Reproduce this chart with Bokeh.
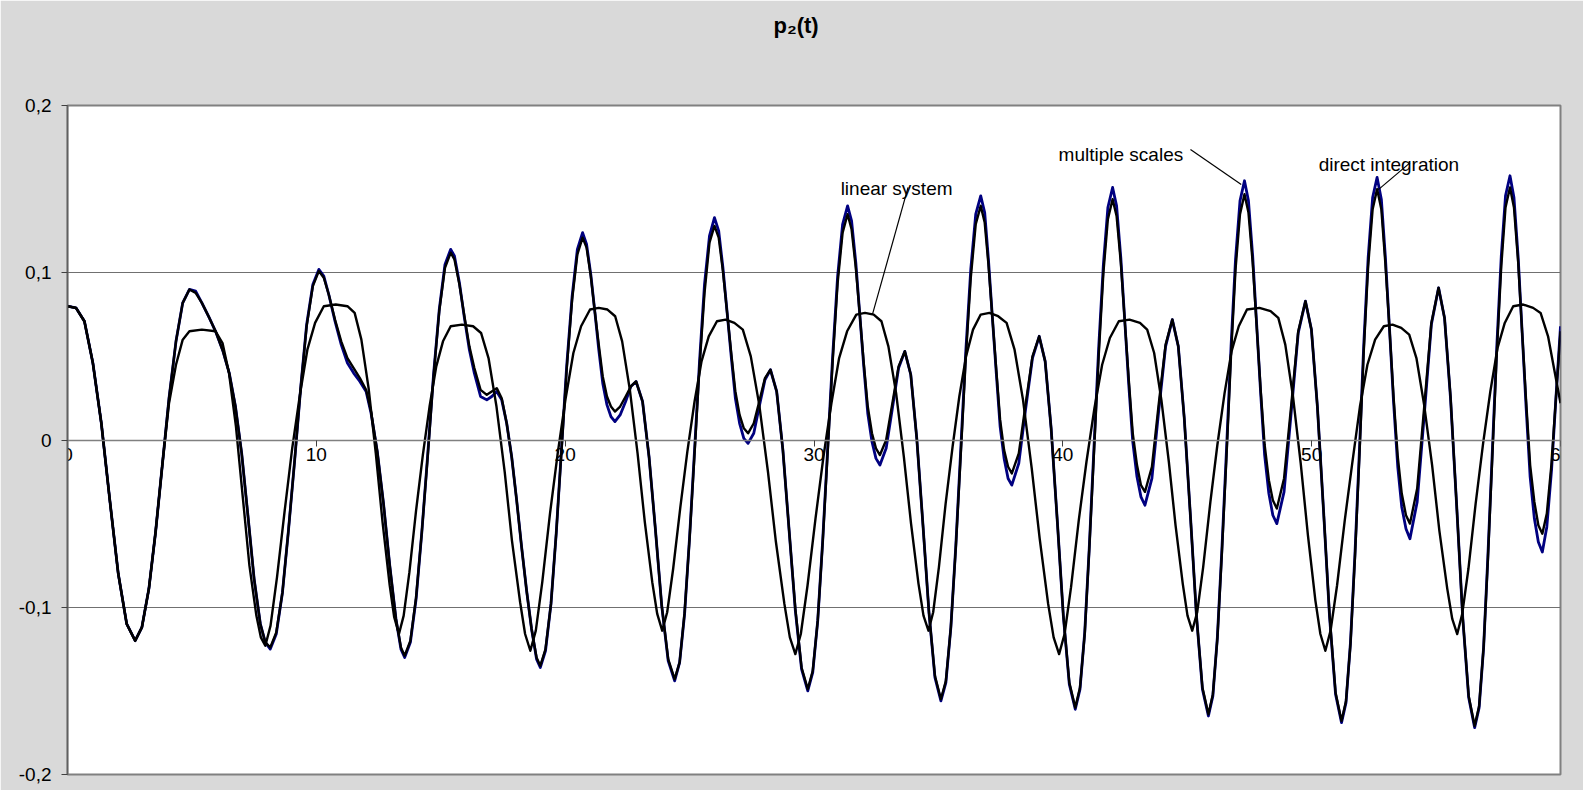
from bokeh.plotting import figure
from bokeh.models import Range1d, FixedTicker, Title
from bokeh.embed import file_html
from bokeh.resources import INLINE
from bokeh.core.properties import value

# ---------------- data ----------------
t_fast = [
    0.00, 0.34, 0.68, 1.02, 1.36, 1.70, 2.04, 2.38, 2.72,
    2.99, 3.27, 3.54, 3.81, 4.08, 4.36, 4.63, 4.90,
    5.15, 5.40, 5.70, 5.95, 6.25, 6.50, 6.75, 7.00, 7.25, 7.50, 7.75, 7.95, 8.15,
    8.39, 8.64, 8.88, 9.13, 9.37, 9.61, 9.86, 10.10,
    10.30, 10.50, 10.75, 11.00, 11.25, 11.50, 11.75, 12.00, 12.20, 12.45, 12.70, 12.95, 13.20, 13.40, 13.55,
    13.78, 14.01, 14.24, 14.48, 14.71, 14.94, 15.17, 15.40,
    15.55, 15.75, 15.95, 16.15, 16.35, 16.60, 16.85, 17.05, 17.25, 17.45, 17.65, 17.85, 18.05, 18.25, 18.45, 18.65, 18.85, 19.00,
    19.21, 19.43, 19.64, 19.85, 20.06, 20.28, 20.49, 20.70,
    20.86, 21.03, 21.19, 21.35, 21.51, 21.68, 21.84, 22.00,
    22.21, 22.43, 22.64, 22.85,
    23.11, 23.37, 23.63, 23.88, 24.14, 24.40,
    24.60, 24.80, 25.00, 25.20, 25.40, 25.60, 25.80, 26.00,
    26.17, 26.34, 26.51, 26.68, 26.84, 27.01, 27.18, 27.35,
    27.58, 27.80, 28.03, 28.25,
    28.50, 28.75, 29.00, 29.25, 29.50, 29.75,
    29.95, 30.15, 30.35, 30.55, 30.75, 30.95, 31.15, 31.35,
    31.51, 31.68, 31.84, 32.00, 32.16, 32.33, 32.49, 32.65,
    32.90, 33.15, 33.40, 33.65,
    33.89, 34.13, 34.38, 34.62, 34.86, 35.10,
    35.30, 35.50, 35.70, 35.90, 36.10, 36.30, 36.50, 36.70,
    36.86, 37.01, 37.17, 37.33, 37.48, 37.64, 37.80, 37.95,
    38.23, 38.50, 38.78, 39.05,
    39.29, 39.53, 39.78, 40.02, 40.26, 40.50,
    40.69, 40.88, 41.06, 41.25, 41.44, 41.63, 41.81, 42.00,
    42.16, 42.33, 42.49, 42.65, 42.81, 42.98, 43.14, 43.30,
    43.58, 43.85, 44.13, 44.40,
    44.64, 44.88, 45.13, 45.37, 45.61, 45.85,
    46.03, 46.21, 46.39, 46.58, 46.76, 46.94, 47.12, 47.30,
    47.46, 47.63, 47.79, 47.95, 48.11, 48.28, 48.44, 48.60,
    48.89, 49.18, 49.46, 49.75,
    49.99, 50.23, 50.48, 50.72, 50.96, 51.20,
    51.38, 51.56, 51.74, 51.92, 52.09, 52.27, 52.45, 52.63,
    52.80, 52.96, 53.13, 53.29, 53.46, 53.62, 53.79, 53.95,
    54.24, 54.53, 54.81, 55.10,
    55.34, 55.58, 55.83, 56.07, 56.31, 56.55,
    56.73, 56.91, 57.08, 57.26, 57.44, 57.62, 57.79, 57.97,
    58.13, 58.30, 58.46, 58.62, 58.78, 58.95, 59.11, 59.27,
    59.45, 59.64, 59.82, 60.00,
]

p2_direct = [
    0.080, 0.079, 0.071, 0.046, 0.010, -0.036, -0.080, -0.110, -0.120,
    -0.112, -0.089, -0.055, -0.015, 0.025, 0.059, 0.082, 0.090,
    0.088, 0.082, 0.073, 0.065, 0.053, 0.040, 0.020, -0.008, -0.045, -0.083, -0.110, -0.121, -0.124,
    -0.115, -0.091, -0.054, -0.012, 0.031, 0.068, 0.092, 0.101,
    0.097, 0.087, 0.072, 0.059, 0.049, 0.043, 0.037, 0.030, 0.017, -0.007, -0.038, -0.075, -0.107, -0.124, -0.129,
    -0.120, -0.094, -0.055, -0.009, 0.038, 0.077, 0.103, 0.112,
    0.108, 0.093, 0.074, 0.056, 0.043, 0.030, 0.027, 0.029, 0.031, 0.025, 0.010, -0.010, -0.036, -0.064, -0.090, -0.113, -0.130, -0.135,
    -0.125, -0.098, -0.056, -0.007, 0.042, 0.084, 0.111, 0.121,
    0.115, 0.098, 0.077, 0.057, 0.038, 0.026, 0.020, 0.017,
    0.020, 0.026, 0.032, 0.035,
    0.023, -0.010, -0.054, -0.099, -0.131, -0.143,
    -0.133, -0.103, -0.059, -0.008, 0.044, 0.088, 0.118, 0.128,
    0.121, 0.101, 0.076, 0.051, 0.029, 0.015, 0.007, 0.004,
    0.010, 0.023, 0.037, 0.042,
    0.029, -0.006, -0.054, -0.101, -0.136, -0.149,
    -0.138, -0.108, -0.061, -0.007, 0.047, 0.094, 0.124, 0.135,
    0.126, 0.103, 0.075, 0.046, 0.020, 0.004, -0.005, -0.009,
    0.000, 0.022, 0.044, 0.053,
    0.039, 0.001, -0.051, -0.103, -0.141, -0.155,
    -0.144, -0.112, -0.064, -0.008, 0.049, 0.097, 0.129, 0.140,
    0.130, 0.105, 0.073, 0.041, 0.012, -0.006, -0.016, -0.020,
    -0.008, 0.021, 0.050, 0.062,
    0.047, 0.007, -0.049, -0.105, -0.145, -0.160,
    -0.148, -0.116, -0.066, -0.008, 0.050, 0.100, 0.132, 0.144,
    0.134, 0.106, 0.071, 0.036, 0.004, -0.015, -0.027, -0.031,
    -0.016, 0.021, 0.057, 0.072,
    0.056, 0.013, -0.046, -0.105, -0.148, -0.164,
    -0.152, -0.119, -0.068, -0.009, 0.051, 0.102, 0.135, 0.147,
    0.136, 0.106, 0.068, 0.030, -0.003, -0.024, -0.036, -0.041,
    -0.023, 0.021, 0.065, 0.083,
    0.066, 0.020, -0.043, -0.105, -0.151, -0.168,
    -0.156, -0.122, -0.070, -0.009, 0.052, 0.104, 0.138, 0.150,
    0.138, 0.106, 0.066, 0.026, -0.010, -0.032, -0.045, -0.050,
    -0.029, 0.021, 0.070, 0.091,
    0.073, 0.026, -0.040, -0.106, -0.153, -0.171,
    -0.159, -0.124, -0.072, -0.010, 0.052, 0.104, 0.139, 0.151,
    0.139, 0.106, 0.064, 0.023, -0.015, -0.037, -0.051, -0.056,
    -0.044, -0.014, 0.026, 0.065,
]

p2_multiscale = [
    0.080, 0.079, 0.071, 0.046, 0.010, -0.036, -0.080, -0.110, -0.120,
    -0.112, -0.089, -0.055, -0.015, 0.025, 0.059, 0.082, 0.090,
    0.089, 0.082, 0.073, 0.065, 0.053, 0.040, 0.020, -0.008, -0.045, -0.083, -0.110, -0.121, -0.125,
    -0.116, -0.091, -0.054, -0.012, 0.031, 0.069, 0.093, 0.102,
    0.098, 0.087, 0.071, 0.057, 0.046, 0.040, 0.035, 0.029, 0.016, -0.007, -0.038, -0.075, -0.107, -0.125, -0.130,
    -0.121, -0.095, -0.055, -0.008, 0.039, 0.078, 0.105, 0.114,
    0.110, 0.094, 0.073, 0.054, 0.040, 0.026, 0.024, 0.026, 0.029, 0.024, 0.010, -0.010, -0.036, -0.064, -0.090, -0.113, -0.131, -0.136,
    -0.126, -0.098, -0.056, -0.006, 0.044, 0.086, 0.114, 0.124,
    0.117, 0.099, 0.077, 0.054, 0.034, 0.021, 0.014, 0.011,
    0.015, 0.023, 0.032, 0.035,
    0.023, -0.010, -0.054, -0.099, -0.132, -0.144,
    -0.133, -0.104, -0.058, -0.006, 0.047, 0.093, 0.122, 0.133,
    0.125, 0.103, 0.076, 0.049, 0.025, 0.010, 0.001, -0.002,
    0.004, 0.020, 0.036, 0.042,
    0.029, -0.006, -0.054, -0.102, -0.137, -0.150,
    -0.139, -0.108, -0.060, -0.005, 0.050, 0.098, 0.129, 0.140,
    0.131, 0.106, 0.075, 0.044, 0.016, -0.001, -0.011, -0.015,
    -0.005, 0.019, 0.043, 0.053,
    0.039, 0.001, -0.051, -0.103, -0.142, -0.156,
    -0.145, -0.112, -0.063, -0.005, 0.053, 0.102, 0.135, 0.146,
    0.136, 0.108, 0.073, 0.039, 0.008, -0.011, -0.023, -0.027,
    -0.014, 0.018, 0.049, 0.062,
    0.047, 0.007, -0.049, -0.105, -0.146, -0.161,
    -0.149, -0.115, -0.065, -0.005, 0.055, 0.105, 0.139, 0.151,
    0.140, 0.109, 0.071, 0.033, -0.001, -0.022, -0.034, -0.039,
    -0.023, 0.017, 0.056, 0.072,
    0.056, 0.013, -0.046, -0.105, -0.149, -0.165,
    -0.153, -0.118, -0.066, -0.005, 0.056, 0.108, 0.143, 0.155,
    0.143, 0.110, 0.069, 0.028, -0.009, -0.032, -0.045, -0.050,
    -0.031, 0.017, 0.064, 0.083,
    0.066, 0.020, -0.043, -0.106, -0.152, -0.169,
    -0.157, -0.121, -0.068, -0.006, 0.056, 0.109, 0.145, 0.157,
    0.144, 0.110, 0.066, 0.023, -0.016, -0.040, -0.053, -0.059,
    -0.037, 0.016, 0.069, 0.091,
    0.073, 0.025, -0.040, -0.106, -0.154, -0.172,
    -0.160, -0.124, -0.070, -0.007, 0.056, 0.110, 0.146, 0.158,
    0.145, 0.109, 0.064, 0.019, -0.022, -0.047, -0.061, -0.067,
    -0.052, -0.018, 0.026, 0.068,
]

t_linear = [
    0.00, 0.34, 0.68, 1.02, 1.36, 1.70, 2.04, 2.38, 2.72, 2.99, 3.27, 3.54, 3.81, 4.08, 4.36, 4.63, 4.90, 5.40, 5.95,
    6.23, 6.49, 6.77, 7.05, 7.31, 7.59, 7.77, 7.95,
    8.16, 8.42, 8.73, 9.03, 9.34, 9.64, 9.95, 10.30, 10.78, 11.25,
    11.54, 11.81, 12.10, 12.39, 12.66, 12.95, 13.13, 13.32,
    13.51, 13.74, 14.01, 14.28, 14.55, 14.82, 15.09, 15.40, 15.85, 16.30,
    16.62, 16.92, 17.24, 17.57, 17.86, 18.19, 18.39, 18.60,
    18.82, 19.08, 19.39, 19.70, 20.02, 20.33, 20.64, 21.00, 21.35, 21.70,
    22.01, 22.29, 22.60, 22.91, 23.20, 23.50, 23.70, 23.90,
    24.10, 24.34, 24.63, 24.91, 25.20, 25.48, 25.77, 26.10, 26.45, 26.80,
    27.14, 27.46, 27.80, 28.15, 28.47, 28.81, 29.03, 29.25,
    29.47, 29.74, 30.06, 30.38, 30.70, 31.01, 31.33, 31.70, 32.05, 32.40,
    32.71, 32.99, 33.30, 33.61, 33.90, 34.20, 34.40, 34.60,
    34.79, 35.02, 35.29, 35.57, 35.84, 36.11, 36.39, 36.70, 37.05, 37.40,
    37.74, 38.06, 38.40, 38.75, 39.07, 39.41, 39.63, 39.85,
    40.07, 40.33, 40.64, 40.95, 41.27, 41.58, 41.89, 42.25, 42.68, 43.10,
    43.39, 43.67, 43.96, 44.26, 44.53, 44.82, 45.01, 45.20,
    45.40, 45.64, 45.93, 46.21, 46.50, 46.78, 47.07, 47.40, 47.90, 48.35,
    48.66, 48.94, 49.25, 49.56, 49.85, 50.15, 50.35, 50.55,
    50.76, 51.02, 51.33, 51.63, 51.94, 52.24, 52.55, 52.90, 53.25, 53.60,
    53.92, 54.21, 54.52, 54.84, 55.13, 55.45, 55.65, 55.85,
    56.05, 56.30, 56.59, 56.89, 57.18, 57.47, 57.76, 58.10, 58.50, 58.90,
    59.20, 59.50, 59.75, 60.00,
]

p2_linear = [
    0.080, 0.079, 0.071, 0.046, 0.010, -0.036, -0.080, -0.110, -0.120, -0.112, -0.089, -0.055, -0.015, 0.022, 0.045, 0.060, 0.065, 0.066, 0.065,
    0.058, 0.040, 0.008, -0.035, -0.075, -0.105, -0.118, -0.123,
    -0.111, -0.082, -0.042, -0.005, 0.027, 0.054, 0.070, 0.080, 0.081, 0.080,
    0.076, 0.060, 0.031, -0.008, -0.049, -0.087, -0.106, -0.116,
    -0.105, -0.079, -0.042, -0.009, 0.020, 0.044, 0.059, 0.068, 0.069, 0.068,
    0.064, 0.049, 0.020, -0.019, -0.060, -0.097, -0.116, -0.126,
    -0.114, -0.085, -0.044, -0.008, 0.025, 0.052, 0.068, 0.078, 0.079, 0.078,
    0.074, 0.059, 0.030, -0.008, -0.049, -0.085, -0.104, -0.114,
    -0.103, -0.077, -0.040, -0.007, 0.023, 0.047, 0.062, 0.071, 0.072, 0.070,
    0.066, 0.050, 0.021, -0.019, -0.061, -0.098, -0.118, -0.128,
    -0.116, -0.087, -0.047, -0.010, 0.022, 0.049, 0.065, 0.075, 0.076, 0.075,
    0.071, 0.056, 0.028, -0.010, -0.050, -0.086, -0.105, -0.114,
    -0.103, -0.076, -0.038, -0.004, 0.026, 0.050, 0.066, 0.075, 0.076, 0.074,
    0.070, 0.054, 0.024, -0.017, -0.059, -0.098, -0.118, -0.128,
    -0.116, -0.088, -0.048, -0.013, 0.019, 0.045, 0.061, 0.071, 0.072, 0.070,
    0.066, 0.052, 0.024, -0.013, -0.051, -0.086, -0.105, -0.114,
    -0.103, -0.076, -0.037, -0.003, 0.028, 0.053, 0.068, 0.078, 0.079, 0.077,
    0.073, 0.057, 0.026, -0.014, -0.057, -0.096, -0.116, -0.126,
    -0.114, -0.087, -0.048, -0.014, 0.020, 0.045, 0.060, 0.068, 0.069, 0.067,
    0.063, 0.049, 0.021, -0.015, -0.054, -0.089, -0.107, -0.116,
    -0.104, -0.077, -0.038, -0.002, 0.029, 0.055, 0.070, 0.080, 0.081, 0.079,
    0.076, 0.062, 0.042, 0.022,
]

x_ticks = [0, 10, 20, 30, 40, 50, 60]
x_tick_labels = ["0", "10", "20", "30", "40", "50", "60"]
y_ticks = [-0.2, -0.1, 0.0, 0.1, 0.2]
y_tick_labels = ["-0,2", "-0,1", "0", "0,1", "0,2"]

chart_title = "p\u2082(t)"
note_text = ["linear system", "multiple scales", "direct integration"]
note_x = [31.07, 39.83, 50.28]
note_y = [0.1504, 0.1709, 0.1650]
leader_x0 = [33.78, 45.13, 53.95]
leader_y0 = [0.1510, 0.1737, 0.1657]
leader_x1 = [32.35, 47.17, 52.68]
leader_y1 = [0.0751, 0.1528, 0.1497]

# ---------------- figure ----------------
FONT = "Liberation Sans"
BG = "#d9d9d9"
p = figure(
    width=1583, height=790,
    x_range=Range1d(0, 60), y_range=Range1d(-0.2, 0.2),
    output_backend="svg", toolbar_location=None, title_location=None,
    min_border_left=67, min_border_right=23, min_border_top=104, min_border_bottom=16,
    background_fill_color="white", border_fill_color=BG,
    outline_line_color="#808080", outline_line_width=2,
)

# blank spacer panel next to the frame, then the chart title above it
spacer = Title(text="|", text_font=FONT, text_font_size="10px", standoff=41, text_color=BG)
p.add_layout(spacer, "above")
title = Title(text=chart_title, text_font=FONT, text_font_size="22px", text_font_style="bold",
              align="left", offset=706, vertical_align="top", standoff=24, text_color="black")
p.add_layout(title, "above")

# x axis crossing at y = 0
xa = p.xaxis[0]
xa.fixed_location = 0
xa.ticker = FixedTicker(ticks=x_ticks)
xa.major_label_overrides = {t: s for t, s in zip(x_ticks, x_tick_labels)}
xa.minor_tick_line_color = None
xa.major_tick_out = 6
xa.major_tick_in = 0
xa.axis_line_color = "#808080"
xa.axis_line_width = 1.5
xa.major_tick_line_color = "#404040"
xa.major_label_standoff = 2
xa.major_label_text_font = FONT
xa.major_label_text_font_size = "19px"
xa.major_label_text_color = "black"

ya = p.yaxis[0]
ya.ticker = FixedTicker(ticks=y_ticks)
ya.major_label_overrides = {t: s for t, s in zip(y_ticks, y_tick_labels)}
ya.minor_tick_line_color = None
ya.major_tick_out = 6
ya.major_tick_in = 0
ya.axis_line_color = "#606060"
ya.axis_line_width = 1.5
ya.major_tick_line_color = "#404040"
ya.major_label_standoff = 10
ya.major_label_text_font = FONT
ya.major_label_text_font_size = "19px"
ya.major_label_text_color = "black"

p.xgrid.visible = False
p.ygrid.ticker = FixedTicker(ticks=[-0.1, 0.1])
p.ygrid.grid_line_color = "#707070"
p.ygrid.grid_line_width = 1

# curves
p.line(t_fast, p2_multiscale, line_color="#000080", line_width=2.8, line_join="round")
p.line(t_fast, p2_direct, line_color="black", line_width=2.4, line_join="round")
p.line(t_linear, p2_linear, line_color="black", line_width=2.4, line_join="round")

# annotations
p.segment(x0=leader_x0, y0=leader_y0, x1=leader_x1, y1=leader_y1, line_color="black", line_width=1.2)
p.text(x=note_x, y=note_y, text=note_text, text_font=value(FONT), text_font_size="19px",
       text_color="black", text_align="left", text_baseline="alphabetic")

open("out.html", "w").write(file_html(p, INLINE))
